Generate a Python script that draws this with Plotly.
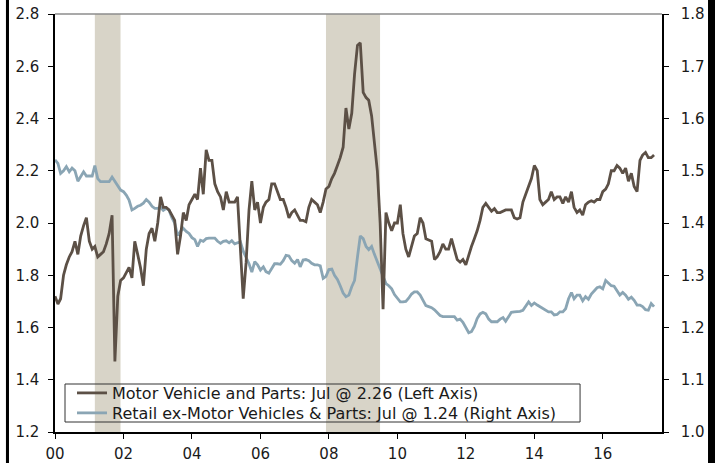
import pandas as pd
import plotly.graph_objects as go

# ---------------- data ----------------
start_month = "2000-01-01"
n_months = 211  # Jan 2000 .. Jul 2017

motor_vehicle_parts = [
    # 2000
    1.72, 1.69, 1.71, 1.80, 1.84, 1.87, 1.89, 1.93, 1.88, 1.95, 1.99, 2.02,
    # 2001
    1.93, 1.90, 1.91, 1.87, 1.88, 1.89, 1.92, 1.96, 2.03, 1.47, 1.72, 1.78,
    # 2002
    1.79, 1.81, 1.83, 1.79, 1.93, 1.88, 1.83, 1.76, 1.90, 1.96, 1.98, 1.93,
    # 2003
    2.00, 2.10, 2.06, 2.06, 2.05, 2.03, 2.01, 1.88, 1.95, 2.04, 2.01, 2.07,
    # 2004
    2.09, 2.11, 2.09, 2.21, 2.11, 2.28, 2.24, 2.24, 2.15, 2.12, 2.10, 2.05,
    # 2005
    2.12, 2.08, 2.08, 2.08, 2.10, 1.90, 1.71, 1.85, 2.05, 2.16, 2.05, 2.08,
    # 2006
    2.00, 2.06, 2.08, 2.09, 2.15, 2.15, 2.12, 2.09, 2.09, 2.06, 2.02, 2.04,
    # 2007
    2.05, 2.03, 2.01, 2.01, 2.005, 2.06, 2.09, 2.08, 2.07, 2.04, 2.08, 2.13,
    # 2008
    2.14, 2.17, 2.19, 2.22, 2.25, 2.29, 2.44, 2.36, 2.42, 2.57, 2.68, 2.69,
    # 2009
    2.50, 2.48, 2.47, 2.41, 2.30, 2.20, 2.00, 1.67, 2.04, 2.00, 1.97, 2.00,
    # 2010
    2.00, 2.07, 1.96, 1.90, 1.87, 1.91, 1.95, 1.96, 2.02, 2.00, 1.94, 1.935,
    # 2011
    1.93, 1.86, 1.87, 1.89, 1.92, 1.90, 1.90, 1.94, 1.90, 1.86, 1.85, 1.86,
    # 2012
    1.84, 1.88, 1.91, 1.94, 1.97, 2.01, 2.06, 2.075, 2.06, 2.045, 2.055, 2.04,
    # 2013
    2.04, 2.045, 2.05, 2.05, 2.05, 2.02, 2.015, 2.02, 2.08, 2.11, 2.14, 2.17,
    # 2014
    2.22, 2.20, 2.09, 2.07, 2.08, 2.09, 2.12, 2.09, 2.10, 2.10, 2.075, 2.10,
    # 2015
    2.08, 2.12, 2.06, 2.04, 2.05, 2.03, 2.07, 2.08, 2.085, 2.08, 2.09, 2.09,
    # 2016
    2.12, 2.13, 2.15, 2.20, 2.20, 2.22, 2.21, 2.19, 2.21, 2.16, 2.19, 2.14,
    # 2017 (Jan-Jul)
    2.12, 2.24, 2.26, 2.27, 2.25, 2.25, 2.26,
]

retail_ex_motor = [
    # 2000
    1.521, 1.514, 1.495, 1.500, 1.508, 1.498, 1.505, 1.500, 1.480, 1.490, 1.498, 1.490,
    # 2001
    1.490, 1.490, 1.510, 1.485, 1.479, 1.479, 1.479, 1.479, 1.488, 1.480, 1.473, 1.463,
    # 2002
    1.460, 1.453, 1.444, 1.425, 1.428, 1.432, 1.434, 1.438, 1.445, 1.440, 1.432, 1.428,
    # 2003
    1.428, 1.430, 1.424, 1.428, 1.425, 1.410, 1.400, 1.376, 1.384, 1.390, 1.384, 1.380,
    # 2004
    1.372, 1.368, 1.355, 1.367, 1.365, 1.370, 1.371, 1.371, 1.371, 1.365, 1.361, 1.365,
    # 2005
    1.366, 1.362, 1.366, 1.360, 1.362, 1.364, 1.346, 1.334, 1.322, 1.306, 1.326, 1.320,
    # 2006
    1.310, 1.316, 1.307, 1.304, 1.312, 1.322, 1.322, 1.321, 1.328, 1.338, 1.337, 1.328,
    # 2007
    1.323, 1.330, 1.316, 1.329, 1.330, 1.328, 1.323, 1.320, 1.320, 1.318, 1.294, 1.298,
    # 2008
    1.311, 1.312, 1.300, 1.292, 1.280, 1.266, 1.259, 1.262, 1.278, 1.290, 1.335, 1.375,
    # 2009
    1.370, 1.355, 1.349, 1.355, 1.340, 1.326, 1.312, 1.295, 1.284, 1.280, 1.274, 1.263,
    # 2010
    1.255, 1.249, 1.249, 1.250, 1.256, 1.264, 1.268, 1.268, 1.262, 1.252, 1.242, 1.240,
    # 2011
    1.238, 1.234, 1.228, 1.223, 1.221, 1.221, 1.221, 1.221, 1.221, 1.214, 1.216, 1.210,
    # 2012
    1.199, 1.190, 1.192, 1.202, 1.217, 1.226, 1.229, 1.226, 1.216, 1.211, 1.211, 1.211,
    # 2013
    1.216, 1.219, 1.212, 1.222, 1.229, 1.230, 1.230, 1.231, 1.233, 1.240, 1.249, 1.242,
    # 2014
    1.247, 1.243, 1.240, 1.238, 1.234, 1.230, 1.230, 1.224, 1.225, 1.230, 1.230, 1.236,
    # 2015
    1.255, 1.267, 1.255, 1.262, 1.262, 1.251, 1.259, 1.254, 1.264, 1.271, 1.276, 1.278,
    # 2016
    1.274, 1.290, 1.285, 1.280, 1.279, 1.270, 1.262, 1.267, 1.262, 1.254, 1.258, 1.252,
    # 2017 (Jan-Jul)
    1.243, 1.243, 1.240, 1.234, 1.233, 1.246, 1.240,
]

recession_starts = ["2001-03-01", "2007-12-01"]
recession_ends = ["2001-11-30", "2009-06-30"]

x_tick_labels = ["00", "02", "04", "06", "08", "10", "12", "14", "16"]
left_ticks = [1.2, 1.4, 1.6, 1.8, 2.0, 2.2, 2.4, 2.6, 2.8]
right_ticks = [1.0, 1.1, 1.2, 1.3, 1.4, 1.5, 1.6, 1.7, 1.8]

name_mv = "Motor Vehicle and Parts: Jul @ 2.26 (Left Axis)"
name_rt = "Retail ex-Motor Vehicles & Parts: Jul @ 1.24 (Right Axis)"

# ---------------- figure ----------------
dates = pd.date_range(start_month, periods=n_months, freq="MS")
x_range = ["2000-01-01", "2017-09-24"]
tick_vals = pd.date_range("2000-01-01", periods=len(x_tick_labels), freq="24MS")

FONT = "DejaVu Sans, Verdana, sans-serif"
TXT = "#1a1a1a"
BROWN = "#5C5046"
BLUE = "#8AA5B4"
SHADE = "#D8D4C8"

fig = go.Figure()
# blue on the main (right) axis, brown on the overlaying (left) axis so brown draws on top
fig.add_trace(go.Scatter(x=dates, y=retail_ex_motor, mode="lines", name=name_rt,
                         line=dict(color=BLUE, width=2.8), yaxis="y", legend="legend2"))
fig.add_trace(go.Scatter(x=dates, y=motor_vehicle_parts, mode="lines", name=name_mv,
                         line=dict(color=BROWN, width=2.8), yaxis="y2", legend="legend"))

for s, e in zip(recession_starts, recession_ends):
    fig.add_shape(type="rect", xref="x", yref="paper", x0=s, x1=e, y0=0, y1=1,
                  fillcolor=SHADE, line_width=0, layer="below")

tickfont = dict(family=FONT, size=15, color=TXT)
legfont = dict(family=FONT, size=16, color=TXT)

fig.update_layout(
    width=715, height=463,
    margin=dict(l=55, r=53, t=14, b=31, autoexpand=False),
    paper_bgcolor="white", plot_bgcolor="white",
    font=dict(family=FONT, size=15, color=TXT),
    showlegend=True,
    legend=dict(x=0.028, y=0.0933, xanchor="left", yanchor="middle",
                bgcolor="rgba(0,0,0,0)", borderwidth=0, font=legfont, itemwidth=30),
    legend2=dict(x=0.028, y=0.0455, xanchor="left", yanchor="middle",
                 bgcolor="rgba(0,0,0,0)", borderwidth=0, font=legfont, itemwidth=30),
    xaxis=dict(type="date", range=x_range, tickvals=tick_vals, ticktext=x_tick_labels,
               ticks="outside", ticklen=5, tickwidth=1, tickcolor="black", automargin=False,
               showline=True, linecolor="black", linewidth=1.5,
               showgrid=False, zeroline=False, tickfont=tickfont, ticklabelstandoff=2),
    xaxis2=dict(type="date", range=x_range, tickvals=tick_vals, overlaying="x", anchor="y",
                ticks="inside", ticklen=5, tickwidth=1, tickcolor="black", automargin=False,
                showticklabels=False, showline=False, showgrid=False, zeroline=False),
    yaxis=dict(range=[1.0, 1.8], tickvals=right_ticks, tickformat=".1f", side="right",
               ticks="outside", ticklen=5, tickwidth=1, tickcolor="black", automargin=False,
               showline=True, linecolor="black", linewidth=1.5,
               showgrid=False, zeroline=False, tickfont=tickfont, ticklabelstandoff=9),
    yaxis2=dict(range=[1.2, 2.8], tickvals=left_ticks, tickformat=".1f", side="left",
                overlaying="y", anchor="x", automargin=False,
                ticks="outside", ticklen=5, tickwidth=1, tickcolor="black",
                showline=True, linecolor="black", linewidth=1.5,
                showgrid=False, zeroline=False, tickfont=tickfont, ticklabelstandoff=6),
    yaxis3=dict(range=[1.0, 1.8], tickvals=right_ticks, side="right", overlaying="y", anchor="x",
                ticks="inside", ticklen=5, tickwidth=1, tickcolor="black", automargin=False,
                showticklabels=False, showline=False, showgrid=False, zeroline=False),
    yaxis4=dict(range=[1.2, 2.8], tickvals=left_ticks, side="left", overlaying="y", anchor="x",
                ticks="inside", ticklen=5, tickwidth=1, tickcolor="black", automargin=False,
                showticklabels=False, showline=False, showgrid=False, zeroline=False),
)

# legend frame (transparent, recession shading shows through as in the original)
fig.add_shape(type="rect", xref="paper", yref="paper", x0=0.0165, x1=0.865, y0=0.0239, y1=0.1148,
              fillcolor="rgba(0,0,0,0)", line=dict(color="#333333", width=1), layer="above")
# thin grey top border of the plot area
fig.add_shape(type="line", xref="paper", yref="paper", x0=0, x1=1, y0=1, y1=1,
              line=dict(color="#8c8c8c", width=1.5))
# dark frame edges of the original picture
fig.add_shape(type="rect", xref="paper", yref="paper", x0=-0.0808, x1=-0.0758, y0=-0.08, y1=1.04,
              fillcolor="black", line_width=0)
fig.add_shape(type="rect", xref="paper", yref="paper", x0=1.0758, x1=1.1, y0=-0.08, y1=1.04,
              fillcolor="black", line_width=0)

fig.write_html("out.html", config={"displayModeBar": False},
               post_script="document.body.style.margin='0';document.body.style.overflow='hidden';")
